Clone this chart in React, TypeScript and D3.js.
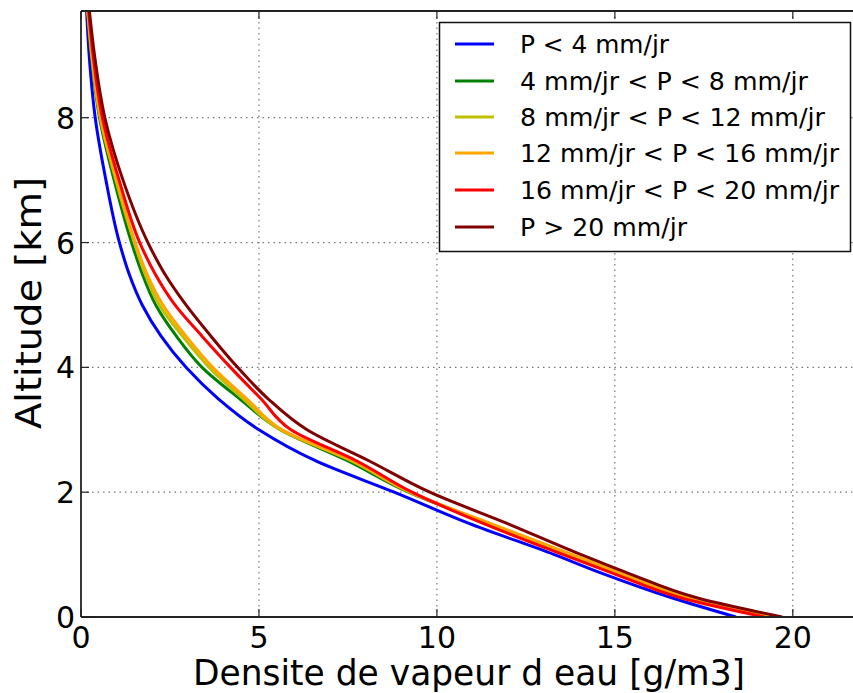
import React from "react";
import * as d3 from "d3";

const ALTITUDES = [0, 0.3, 0.7, 1, 1.5, 2, 2.5, 3, 3.5, 4, 4.5, 5, 5.5, 6, 7, 8, 9, 9.8];

const BLUE = [18.4, 16.64, 14.64, 13.3, 10.9, 8.8, 6.6, 5.0, 3.85, 2.95, 2.25, 1.72, 1.35, 1.08, 0.7, 0.4, 0.23, 0.15];
const GREEN = [19.35, 17.05, 15.1, 13.75, 11.45, 9.2, 7.5, 5.6, 4.45, 3.4, 2.68, 2.1, 1.72, 1.42, 0.93, 0.52, 0.29, 0.17];
const YELLOW = [19.4, 17.1, 15.15, 13.77, 11.45, 9.24, 7.6, 5.6, 4.55, 3.6, 2.85, 2.2, 1.8, 1.5, 0.98, 0.54, 0.3, 0.18];
const ORANGE = [19.45, 17.15, 15.15, 13.8, 11.5, 9.24, 7.65, 5.65, 4.65, 3.7, 2.95, 2.3, 1.85, 1.52, 1.0, 0.55, 0.31, 0.18];
const RED = [19.2, 16.9, 14.95, 13.55, 11.3, 9.3, 7.75, 5.9, 5.05, 4.2, 3.4, 2.64, 2.08, 1.65, 1.07, 0.6, 0.34, 0.2];
const DARKRED = [19.7, 17.35, 15.38, 14.05, 11.97, 9.8, 8.1, 6.35, 5.25, 4.4, 3.65, 2.95, 2.35, 1.88, 1.18, 0.67, 0.38, 0.22];

const SERIES_LABELS = [
  "P < 4 mm/jr",
  "4 mm/jr < P < 8 mm/jr",
  "8 mm/jr < P < 12 mm/jr",
  "12 mm/jr < P < 16 mm/jr",
  "16 mm/jr < P < 20 mm/jr",
  "P > 20 mm/jr",
];
const SERIES_COLORS = ["#0000ff", "#008000", "#bfbf00", "#ffa500", "#ff0000", "#800000"];
const SERIES_VALUES = [BLUE, GREEN, YELLOW, ORANGE, RED, DARKRED];
const LEGEND_WIDTHS = [149, 288, 305, 319, 319, 167];

const X_TICKS = [0, 5, 10, 15, 20];
const Y_TICKS = [0, 2, 4, 6, 8];

const W = 853;
const H = 693;
const LEFT = 81;
const RIGHT = 864;
const TOP = 11;
const BOTTOM = 617;

export default function App() {
  const x = d3.scaleLinear().domain([0, 22]).range([LEFT, RIGHT]);
  const y = d3.scaleLinear().domain([0, 9.71]).range([BOTTOM, TOP]);
  const line = d3
    .line<[number, number]>()
    .x((d) => x(d[0]))
    .y((d) => y(d[1]))
    .curve(d3.curveMonotoneY);

  const font = "DejaVu Sans";
  const legendRows = [44, 81, 117, 153, 190, 227];

  return (
    <div style={{ position: "absolute", left: 0, top: 0 }}>
      <svg width={W} height={H} style={{ display: "block", background: "#fff" }}>
        <defs>
          <clipPath id="plot">
            <rect x={LEFT} y={TOP} width={RIGHT - LEFT} height={BOTTOM - TOP} />
          </clipPath>
        </defs>
        {X_TICKS.filter((t) => t > 0).map((t) => (
          <line key={"gx" + t} x1={x(t)} x2={x(t)} y1={TOP} y2={BOTTOM} stroke="#777" strokeWidth={1.2} strokeDasharray="1.5,4" />
        ))}
        {Y_TICKS.filter((t) => t > 0).map((t) => (
          <line key={"gy" + t} x1={LEFT} x2={RIGHT} y1={y(t)} y2={y(t)} stroke="#777" strokeWidth={1.2} strokeDasharray="1.5,4" />
        ))}
        <g clipPath="url(#plot)">
          {SERIES_VALUES.map((vals, i) => (
            <path
              key={"s" + i}
              d={line(vals.map((v, j) => [v, ALTITUDES[j]] as [number, number])) || ""}
              fill="none"
              stroke={SERIES_COLORS[i]}
              strokeWidth={3}
              strokeLinejoin="round"
            />
          ))}
        </g>
        <line x1={LEFT} x2={LEFT} y1={TOP} y2={BOTTOM} stroke="#222" strokeWidth={1.8} />
        <line x1={LEFT} x2={RIGHT} y1={TOP} y2={TOP} stroke="#222" strokeWidth={1.8} />
        <line x1={LEFT} x2={RIGHT} y1={BOTTOM} y2={BOTTOM} stroke="#222" strokeWidth={1.8} />
        <line x1={RIGHT} x2={RIGHT} y1={TOP} y2={BOTTOM} stroke="#222" strokeWidth={1.8} />
        {X_TICKS.map((t) => (
          <g key={"tx" + t}>
            <line x1={x(t)} x2={x(t)} y1={BOTTOM} y2={BOTTOM - 8} stroke="#222" strokeWidth={1.2} />
            <line x1={x(t)} x2={x(t)} y1={TOP} y2={TOP + 8} stroke="#222" strokeWidth={1.2} />
            <text x={x(t)} y={648} textAnchor="middle" fontFamily={font} fontSize={30} fill="#000">
              {t}
            </text>
          </g>
        ))}
        {Y_TICKS.map((t) => (
          <g key={"ty" + t}>
            <line x1={LEFT} x2={LEFT + 8} y1={y(t)} y2={y(t)} stroke="#222" strokeWidth={1.2} />
            <text x={75} y={y(t) + 11} textAnchor="end" fontFamily={font} fontSize={30} fill="#000">
              {t}
            </text>
          </g>
        ))}
        <text x={469} y={685} textAnchor="middle" fontFamily={font} fontSize={35} fill="#000" textLength={552} lengthAdjust="spacingAndGlyphs">
          Densite de vapeur d eau [g/m3]
        </text>
        <text
          transform={`translate(41,303) rotate(-90)`}
          textAnchor="middle"
          fontFamily={font}
          fontSize={35}
          fill="#000"
          textLength={252}
          lengthAdjust="spacingAndGlyphs"
        >
          Altitude [km]
        </text>
        <rect x={439.5} y={22.5} width={411} height={229} fill="#fff" stroke="#111" strokeWidth={1.5} />
        {SERIES_LABELS.map((lab, i) => (
          <g key={"l" + i}>
            <line x1={455} x2={494} y1={legendRows[i]} y2={legendRows[i]} stroke={SERIES_COLORS[i]} strokeWidth={3} />
            <text
              x={520}
              y={legendRows[i] + 9}
              fontFamily={font}
              fontSize={24.5}
              fill="#000"
              textLength={LEGEND_WIDTHS[i]}
              lengthAdjust="spacingAndGlyphs"
            >
              {lab}
            </text>
          </g>
        ))}
      </svg>
    </div>
  );
}
